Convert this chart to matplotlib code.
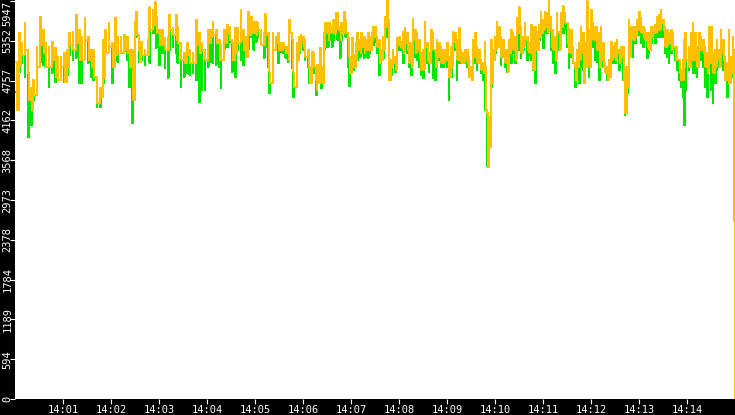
import numpy as np
import matplotlib
matplotlib.use("Agg")
import matplotlib.pyplot as plt

# seconds after 14:00:00 at which each column was read
sec = [1,5,8,12,16,20,23,27,31,35,38,42,46,50,53,57,61,65,68,72,76,80,83,87,91,95,98,102,106,110,113,117,121,125,128,132,136,140,143,146,150,
       151,155,158,162,166,168,172,175,176,180,184,187,191,193,197,201,203,207,211,215,218,222,226,230,233,237,241,245,247,251,255,257,261,265,268,271,275,278,282,285,288,291,295,298,
       301,303,307,311,313,316,318,322,326,329,332,335,338,341,343,346,348,352,355,357,360,362,366,368,371,373,376,378,381,383,386,388,391,393,396,398,401,403,406,408,411,413,416,418,421,423,426,428,431,433,436,438,441,443,446,448,
       450,452,455,457,460,462,465,467,470,472,475,477,480,482,485,487,490,492,495,497,500,502,505,507,510,512,515,517,520,522,525,527,530,532,535,537,540,542,545,547,550,552,555,557,560,562,565,567,570,572,575,577,580,582,585,587,588,590,592,595,597,600,
       602,605,607,610,612,615,617,620,622,625,627,630,632,635,637,640,642,645,647,650,652,655,657,660,662,665,667,670,672,675,677,680,682,685,687,690,692,695,697,700,702,705,707,710,712,715,717,720,722,725,727,730,732,735,737,740,742,745,747,
       750,752,755,757,760,762,765,767,770,772,775,777,780,782,785,787,790,792,795,797,800,802,805,807,810,812,815,817,820,822,825,827,830,832,835,836,838,842,845,847,850,852,855,857,860,862,865,867,870,872,875,877,880,882,885,887,890,892,895,897]

# orange series: column top and column bottom
orange_hi = [5040,5475,5325,5625,4875,4650,4770,5265,5715,5520,5325,5265,5340,5250,5115,5115,5175,5220,5475,5490,5745,5520,5415,5700,5415,5220,5220,4770,4650,5370,5520,5625,5325,5700,5415,5415,5445,5415,5220,5220,5640,
             5790,5220,5340,5220,5370,5850,5820,5925,5715,5520,5520,5400,5415,5745,5550,5745,5565,5265,5175,5325,5220,5175,5670,5475,5325,5220,5520,5520,5640,5520,5370,5295,5520,5595,5565,5325,5550,5550,5820,5520,5415,5790,5715,5640,
             5640,5625,5475,5475,5760,5475,4875,5475,5415,5475,5325,5325,5265,5265,5670,5370,4875,5325,5415,5445,5415,5370,5220,4965,5190,5175,4770,4995,5250,4965,5475,5625,5625,5625,5565,5670,5775,5775,5565,5625,5790,5670,5400,5115,5400,5145,5325,5475,5370,5475,5415,5370,5475,5415,5475,5565,
             5565,5415,5370,5220,5415,5715,5970,5070,5070,5220,5115,5400,5415,5340,5490,5550,5475,5325,5325,5685,5520,5475,5370,5175,5220,5640,5325,5175,5520,5475,5220,5370,5325,5265,5220,5220,5325,5115,5265,5490,5475,5370,5550,5220,5175,5220,5220,5115,4965,5370,5475,5265,5220,5070,5025,5340,4965,4275,4215,5370,5220,5415,
             5640,5565,5415,5370,5220,5220,5370,5520,5475,5415,5700,5850,5370,5415,5625,5415,5325,5595,5565,5565,5490,5595,5790,5670,5790,5775,5970,5520,5520,5415,5775,5490,5775,5865,5775,5625,5550,5520,5220,4965,5220,5325,5565,5475,5325,5940,5520,5820,5625,5565,5565,5475,5565,5325,5025,4965,5070,5340,5265,
             5325,5370,5220,5265,5265,4965,4965,5670,5565,5565,5565,5670,5790,5700,5565,5520,5475,5475,5565,5565,5595,5715,5745,5820,5670,5565,5520,5475,5520,5475,5265,5265,5070,4920,5070,5370,5475,5265,5475,5625,5475,5265,5475,5415,5370,5265,5175,5565,5565,5175,5220,5370,5220,5520,5370,5115,5025,5520,5115,5415]
orange_lo = [4320,4980,5145,5220,4470,4320,4545,4965,5295,5175,4965,4965,5070,4815,4770,4965,4740,4965,5295,5220,5325,5070,5070,5370,5070,4965,4815,4425,4515,4800,5175,5265,4965,5145,5175,5175,5220,5175,4965,4470,5520,
             5445,5040,5145,5145,5145,5520,5595,5670,5475,5295,5295,5220,5220,5520,5445,5370,5325,5070,5025,5145,5025,5025,5295,5175,5220,5070,5325,5415,5445,5325,5070,5070,5325,5475,5370,5070,5175,5325,5370,5220,5115,5445,5475,5475,
             5445,5520,5295,5295,5445,5070,4725,5220,5325,5220,5220,5250,5175,5070,5475,5070,4665,5070,5220,5325,5265,5115,4965,4725,5115,4965,4620,4725,4965,4725,5265,5475,5370,5475,5475,5475,5565,5520,5370,5475,5670,5475,5115,4875,4965,4965,5070,5220,5175,5265,5175,5220,5220,5220,5370,5415,
             5415,5265,5025,5070,5220,5565,5670,4770,4965,5025,4920,5295,5295,5250,5175,5325,5220,5025,4965,5370,5175,5220,5115,4920,4920,5265,5070,5025,5325,5220,4965,5115,5175,5025,5025,5070,5115,4815,4965,5340,5265,5070,5115,5025,5025,5070,5025,4815,4770,5115,5265,5025,5070,4920,4875,4965,4320,3465,3765,4725,5070,5220,
             5265,5370,5115,5115,5025,4890,5175,5265,5220,5070,5475,5565,5175,5265,5370,5220,5175,5265,4920,5220,5220,5415,5475,5520,5565,5490,5715,5265,5220,5070,5475,5220,5565,5670,5625,5325,5175,5265,5025,4770,4965,5070,5175,4725,4965,5415,4965,5475,5370,5370,5220,4965,5070,4965,4875,4770,4815,5070,5115,
             5070,5175,5025,5115,4770,4275,4665,5115,5475,5370,5415,5520,5565,5475,5415,5370,5265,5220,5415,5475,5475,5520,5520,5625,5520,5265,5295,5325,5220,5265,5070,5070,4875,4770,4770,4965,5070,4965,5070,5070,5070,4965,5220,5220,5175,4965,4875,5025,5115,4875,4965,5070,4965,5175,5070,4770,4770,4725,4875,5220]
# green series: lowest point of each column
green_lo = [4590,4890,5025,4815,3915,4095,4470,4815,5025,4995,4965,4665,4875,4740,4815,4920,4740,4845,5145,5070,5100,4725,4725,5115,5025,4815,4770,4365,4365,4725,5175,5370,4725,5265,5040,5265,5190,5070,4665,4125,5415,
            5415,5040,5070,4995,5175,5025,5475,5475,5250,4995,5175,4950,4800,5220,5265,5175,5025,4665,4815,4875,4845,4875,4770,4440,4620,4620,4965,5040,5025,4995,4965,4650,5220,5265,5340,4890,4815,5220,5070,4995,5145,5220,5415,5220,
            5340,5415,5325,5100,5265,4965,4575,5145,5340,5025,5190,5175,5100,5040,5475,4950,4515,5040,5175,5265,5220,5070,4965,4725,4965,4875,4545,4725,4965,4650,5220,5265,5265,5370,5265,5370,5475,5370,5100,5370,5475,5415,4965,4680,4920,4920,5115,5070,5115,5175,5100,5115,5100,5175,5295,5295,
            5340,5175,4845,5025,5100,5295,5415,4770,4845,5025,4890,5325,5220,5220,5025,5265,5175,4965,4845,5340,5115,5070,4965,4845,4800,5175,5025,4890,5220,4800,4770,4965,5070,4965,4965,5025,4965,4470,4815,5220,5220,4770,5025,5025,5025,5025,4965,4845,4845,5070,5025,4920,5025,4875,4770,4965,4320,3480,3825,4665,5070,5175,
            5295,5265,4995,5175,4965,4890,5100,5025,5175,5025,5100,5220,5100,5220,5325,5070,5145,5070,4920,4725,5220,5370,5475,5250,5475,5475,5565,5220,5025,4875,5265,5220,5475,5475,5520,5265,4950,5115,5025,4665,4890,4725,4965,4920,4965,5115,4815,5415,5265,5070,5040,4770,4995,4965,4920,4770,4875,5070,5025,
            5025,5115,4920,5025,4770,4245,4575,5070,5475,5115,5325,5475,5445,5325,5265,5370,5100,5175,5325,5415,5325,5415,5415,5415,5415,5175,5115,5025,5175,5220,5070,4920,4770,4665,4515,4095,4620,4920,5025,4875,4875,4815,5115,5070,4965,4665,4515,4965,4620,4425,4725,4920,4965,5100,4920,4770,4515,4725,4815,5070]

# final drop at the right edge
end_sec = [898.6, 899.4]
end_orange = [2660, 0]
end_green = [2660]

y_ticks = [0, 594, 1189, 1784, 2378, 2973, 3568, 4162, 4757, 5352, 5947]
x_tick_sec = [60, 120, 180, 240, 300, 360, 420, 480, 540, 600, 660, 720, 780, 840]
x_tick_labels = ["14:01", "14:02", "14:03", "14:04", "14:05", "14:06", "14:07",
                 "14:08", "14:09", "14:10", "14:11", "14:12", "14:13", "14:14"]

ORANGE = "#FFC000"
GREEN = "#00E600"

plt.rcParams["font.family"] = ["DejaVu Sans Mono", "DejaVu Sans"]


def interleave(a, b):
    out = np.empty(len(a) * 2)
    out[0::2] = a
    out[1::2] = b
    return out


s = np.asarray(sec, dtype=float)
t = interleave(s, s + 1)
orange = interleave(orange_hi, orange_lo)
green = interleave(green_lo, orange_lo)

t_orange = np.concatenate([t, end_sec])
v_orange = np.concatenate([orange, end_orange])
t_green = np.concatenate([t, end_sec[:1]])
v_green = np.concatenate([green, end_green])

W, H = 735, 415
PX = 0.72  # points per pixel at 100 dpi
fig = plt.figure(figsize=(W / 100, H / 100), dpi=100, facecolor="black")
ax = fig.add_axes([15 / W, 16 / H, 720 / W, 399 / H])
ax.set_facecolor("white")
for sp in ax.spines.values():
    sp.set_visible(False)

ax.plot(t_green, v_green, color=GREEN, lw=0.72, drawstyle="steps-post", antialiased=False)
ax.plot(t_orange, v_orange, color=ORANGE, lw=0.72, drawstyle="steps-post", antialiased=False)

ax.set_xlim(0, 900)
ax.set_ylim(0, 5962)

ax.set_yticks(y_ticks, [str(v) for v in y_ticks])
ax.set_xticks(x_tick_sec, x_tick_labels)
ax.tick_params(axis="y", direction="out", length=5 * PX, width=0.8, color="white",
               labelcolor="white", labelsize=7.5, pad=-2.3 * PX)
ax.tick_params(axis="x", direction="out", length=5 * PX, width=0.8, color="white",
               labelcolor="white", labelsize=7.5, pad=0.5)
for lbl in ax.get_yticklabels():
    lbl.set_rotation(90)
    lbl.set_va("center")
ax.get_yticklabels()[-1].set_va("top")

fig.savefig("out.png", dpi=100, facecolor="black")
